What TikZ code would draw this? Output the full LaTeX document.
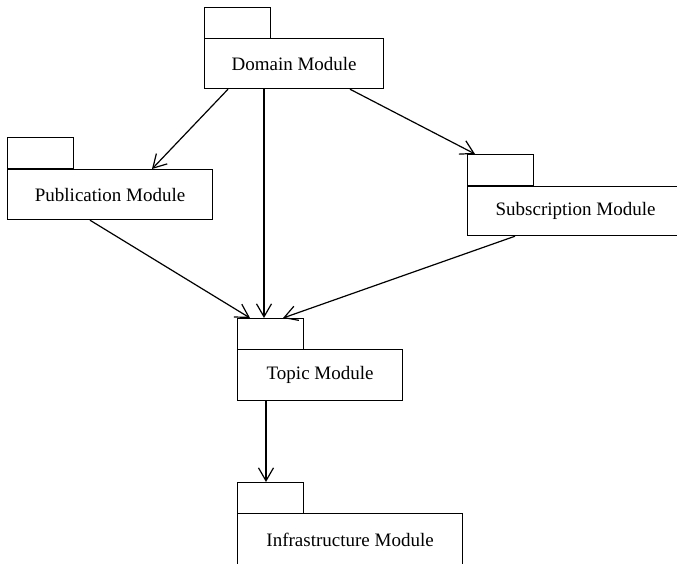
\documentclass[tikz,border=0pt]{standalone}
\usepackage{fontspec}
\setmainfont{Liberation Serif}
\usetikzlibrary{arrows.meta,calc}
\begin{document}
\begin{tikzpicture}[x=1pt,y=-1pt,
  body/.style={draw,line width=1.2pt,anchor=north west,inner sep=0pt,font=\fontsize{19}{22}\selectfont},
  tabbox/.style={draw,line width=1.2pt,anchor=north west,inner sep=0pt,minimum width=66pt,minimum height=31pt},
  dep/.style={line width=1.2pt,-{Straight Barb[length=13pt,width=15pt]}}]
\clip (0,0) rectangle (677,563);
% Domain
\node[tabbox] (domtab) at (204,7) {};
\node[body,minimum width=179pt,minimum height=50pt] (dom) at (204,38) {Domain Module};
% Publication
\node[tabbox] (pubtab) at (7,137) {};
\node[body,minimum width=205pt,minimum height=50pt] (pub) at (7,169) {Publication Module};
% Subscription
\node[tabbox] (subtab) at (467,154) {};
\node[body,minimum width=216pt,minimum height=49pt] (sub) at (467,186) {Subscription Module};
% Topic
\node[tabbox] (toptab) at (237,318) {};
\node[body,minimum width=165pt,minimum height=51pt] (top) at (237,349) {Topic Module};
% Infrastructure
\node[tabbox] (inftab) at (237,482) {};
\node[body,minimum width=225pt,minimum height=53pt] (inf) at (237,513) {Infrastructure Module};
% dependencies
\draw[dep] ([xshift=24pt]dom.south west) -- ([xshift=145pt]pub.north west);
\draw[dep] ([xshift=60pt]dom.south west) -- ([xshift=27pt]toptab.north west);
\draw[dep] ([xshift=146pt]dom.south west) -- ([xshift=8pt]subtab.north west);
\draw[dep] ([xshift=83pt]pub.south west) -- ([xshift=13pt]toptab.north west);
\draw[dep] ([xshift=48pt]sub.south west) -- ([xshift=46pt]toptab.north west);
\draw[dep] ([xshift=29pt]top.south west) -- ([xshift=29pt]inftab.north west);
\end{tikzpicture}
\end{document}
